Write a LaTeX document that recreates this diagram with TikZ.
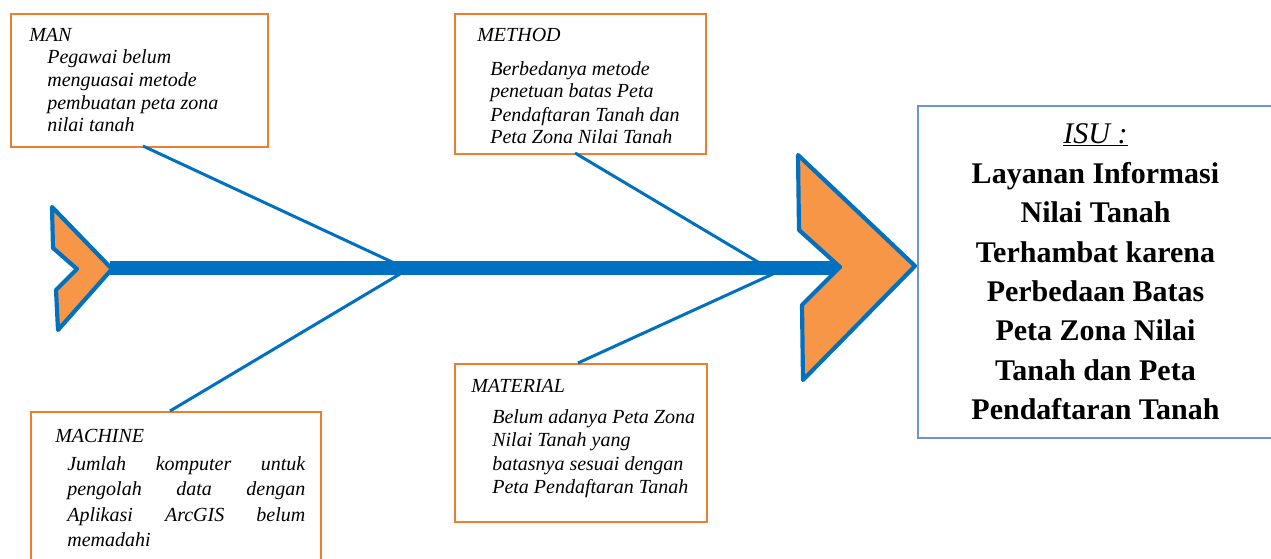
\documentclass[tikz,border=0pt]{standalone}
\usepackage{fontspec}
\setmainfont{Liberation Serif}
\definecolor{bonecol}{RGB}{0,112,192}
\definecolor{boxorange}{RGB}{237,125,49}
\definecolor{chevfill}{RGB}{247,150,70}
\definecolor{isublue}{RGB}{114,147,210}
\begin{document}
\begin{tikzpicture}[x=0.6pt,y=-0.6pt,
  causebox/.style={draw=boxorange,line width=1.2pt,fill=white,anchor=north west,inner sep=0pt},
  bone/.style={draw=bonecol,line width=1.8pt},
  spine/.style={draw=bonecol,line width=8.4pt},
  chevron/.style={draw=bonecol,fill=chevfill,line width=2.5pt,line join=round},
  ttl/.style={anchor=base west,inner sep=0pt,font=\fontsize{12}{13.8}\selectfont\itshape},
  body/.style={anchor=base west,inner sep=0pt,font=\fontsize{12}{13.8}\selectfont\itshape},
  isutext/.style={anchor=base,inner sep=0pt}]
\useasboundingbox (0,0) rectangle (1271,559);
% cause boxes
\node[causebox,minimum width=154.2pt,minimum height=79.8pt] (manbox) at (10,13) {};
\node[causebox,minimum width=150.6pt,minimum height=84pt] (methodbox) at (454,13) {};
\node[causebox,minimum width=174pt,minimum height=96pt] (machinebox) at (30,411) {};
\node[causebox,minimum width=151.2pt,minimum height=94.8pt] (materialbox) at (454,363) {};
\node[draw=isublue,line width=1pt,anchor=north west,inner sep=0pt,minimum width=240pt,minimum height=199.2pt] (isubox) at (917,105) {};
% texts
\node[ttl] (mant) at (29,41) {MAN};
\node[body] (manb) at (47,63) {\begin{tabular}[t]{@{}l@{}}Pegawai belum\\ menguasai metode\\ pembuatan peta zona\\ nilai tanah\end{tabular}};
\node[ttl] (metht) at (477,42) {METHOD};
\node[body] (methb) at (490,75) {\begin{tabular}[t]{@{}l@{}}Berbedanya metode\\ penetuan batas Peta\\ Pendaftaran Tanah dan\\ Peta Zona Nilai Tanah\end{tabular}};
\node[ttl] (macht) at (55,442) {MACHINE};
\node[body,font=\fontsize{12}{15.3}\selectfont\itshape] (machb) at (67,470) {\begin{tabular}[t]{@{}l@{}}\makebox[142.8pt][s]{Jumlah komputer untuk}\\ \makebox[142.8pt][s]{pengolah data dengan}\\ \makebox[142.8pt][s]{Aplikasi ArcGIS belum}\\ memadahi\end{tabular}};
\node[ttl] (matt) at (471,392) {MATERIAL};
\node[body,font=\fontsize{12}{14.1}\selectfont\itshape] (matb) at (492,423) {\begin{tabular}[t]{@{}l@{}}Belum adanya Peta Zona\\ Nilai Tanah yang\\ batasnya sesuai dengan\\ Peta Pendaftaran Tanah\end{tabular}};
\node[isutext,font=\fontsize{18}{23.7}\selectfont\itshape] (isut) at (1095.5,143) {\underline{ISU :}};
\node[isutext,font=\fontsize{18}{23.7}\selectfont\bfseries] (isub) at (1095.5,183) {\begin{tabular}[t]{@{}c@{}}Layanan Informasi\\ Nilai Tanah\\ Terhambat karena\\ Perbedaan Batas\\ Peta Zona Nilai\\ Tanah dan Peta\\ Pendaftaran Tanah\end{tabular}};
% bones
\coordinate (manfoot) at (143,146);
\coordinate (manjoin) at (405,268);
\coordinate (machfoot) at (170,411);
\coordinate (machjoin) at (410,268);
\coordinate (methfoot) at (575,153);
\coordinate (methjoin) at (768,268);
\coordinate (matfoot) at (578,363);
\coordinate (matjoin) at (786,268);
\coordinate (spinestart) at (110,268);
\coordinate (spineend) at (840,268);
\draw[bone] (manfoot) -- (manjoin);
\draw[bone] (machfoot) -- (machjoin);
\draw[bone] (methfoot) -- (methjoin);
\draw[bone] (matfoot) -- (matjoin);
\draw[spine] (spinestart) -- (spineend);
% chevrons
\draw[chevron] (52,207) -- (112,269) -- (58,330) -- (56,290) -- (77,269) -- (53,248) -- cycle;
\draw[chevron] (798,155) -- (915,266) -- (803,380) -- (802,305) -- (840,267) -- (799,230) -- cycle;
\end{tikzpicture}
\end{document}
